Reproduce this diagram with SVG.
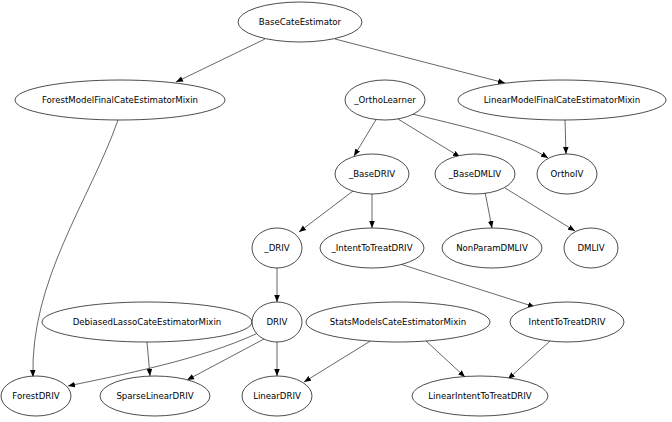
<svg xmlns="http://www.w3.org/2000/svg" width="672" height="422" viewBox="0 0 672 422">
<style>
ellipse{fill:#fff;stroke:#000;stroke-width:0.7}
text{font-family:"DejaVu Sans",sans-serif;font-size:8.6px;text-anchor:middle;dominant-baseline:central}
#edges path{fill:none;stroke:#000;stroke-width:0.6;marker-end:url(#a)}
</style>
<defs><marker id="a" viewBox="0 0 10 10" refX="10" refY="5" markerWidth="7" markerHeight="7" orient="auto" markerUnits="userSpaceOnUse"><path d="M0,1L10,5L0,9z" fill="#000"/></marker></defs>
<rect width="672" height="422" fill="#fff"/>
<g id="edges">
<path d="M265,39L176,82"/>
<path d="M335,39L505,83"/>
<path d="M118,120C90,200 30,280 33,377"/>
<path d="M377,118L354,156"/>
<path d="M398,119L460,157"/>
<path d="M412,114C480,130 520,140 548,158"/>
<path d="M565,120L566,154"/>
<path d="M353,191L299,232"/>
<path d="M372,194L372,228"/>
<path d="M485,192L492,228"/>
<path d="M505,188L575,231"/>
<path d="M277,268L277,302"/>
<path d="M400,264L535,307"/>
<path d="M147,342L150,376"/>
<path d="M258,333C200,360 120,375 68,386"/>
<path d="M264,339L187,380"/>
<path d="M277,342L277,376"/>
<path d="M372,340L304,382"/>
<path d="M425,340L465,377"/>
<path d="M550,341L508,379"/>
</g>
<g id="BaseCateEstimator"><ellipse cx="300" cy="22" rx="62" ry="20"/><text x="300" y="22">BaseCateEstimator</text></g>
<g id="ForestModelFinalCateEstimatorMixin"><ellipse cx="120" cy="100" rx="105" ry="20"/><text x="120" y="100">ForestModelFinalCateEstimatorMixin</text></g>
<g id="OrthoLearner"><ellipse cx="385" cy="100" rx="40" ry="20"/><text x="385" y="100">_OrthoLearner</text></g>
<g id="LinearModelFinalCateEstimatorMixin"><ellipse cx="562" cy="100" rx="104" ry="20"/><text x="562" y="100">LinearModelFinalCateEstimatorMixin</text></g>
<g id="BaseDRIV"><ellipse cx="372" cy="174" rx="37" ry="20"/><text x="372" y="174">_BaseDRIV</text></g>
<g id="BaseDMLIV"><ellipse cx="475" cy="174" rx="40" ry="20"/><text x="475" y="174">_BaseDMLIV</text></g>
<g id="OrthoIV"><ellipse cx="567" cy="174" rx="30" ry="20"/><text x="567" y="174">OrthoIV</text></g>
<g id="DRIV_"><ellipse cx="277" cy="248" rx="25" ry="20"/><text x="277" y="248">_DRIV</text></g>
<g id="IntentToTreatDRIV_"><ellipse cx="372" cy="248" rx="52" ry="20"/><text x="372" y="248">_IntentToTreatDRIV</text></g>
<g id="NonParamDMLIV"><ellipse cx="492" cy="248" rx="50" ry="20"/><text x="492" y="248">NonParamDMLIV</text></g>
<g id="DMLIV"><ellipse cx="591" cy="248" rx="27" ry="20"/><text x="591" y="248">DMLIV</text></g>
<g id="DebiasedLassoCateEstimatorMixin"><ellipse cx="147" cy="322" rx="105" ry="20"/><text x="147" y="322">DebiasedLassoCateEstimatorMixin</text></g>
<g id="DRIV"><ellipse cx="277" cy="322" rx="25" ry="20"/><text x="277" y="322">DRIV</text></g>
<g id="StatsModelsCateEstimatorMixin"><ellipse cx="398" cy="322" rx="92" ry="20"/><text x="398" y="322">StatsModelsCateEstimatorMixin</text></g>
<g id="IntentToTreatDRIV"><ellipse cx="567" cy="322" rx="57" ry="20"/><text x="567" y="322">IntentToTreatDRIV</text></g>
<g id="ForestDRIV"><ellipse cx="36" cy="396" rx="35" ry="20"/><text x="36" y="396">ForestDRIV</text></g>
<g id="SparseLinearDRIV"><ellipse cx="155" cy="396" rx="55" ry="20"/><text x="155" y="396">SparseLinearDRIV</text></g>
<g id="LinearDRIV"><ellipse cx="277" cy="396" rx="35" ry="20"/><text x="277" y="396">LinearDRIV</text></g>
<g id="LinearIntentToTreatDRIV"><ellipse cx="480" cy="396" rx="68" ry="20"/><text x="480" y="396">LinearIntentToTreatDRIV</text></g>
</svg>
